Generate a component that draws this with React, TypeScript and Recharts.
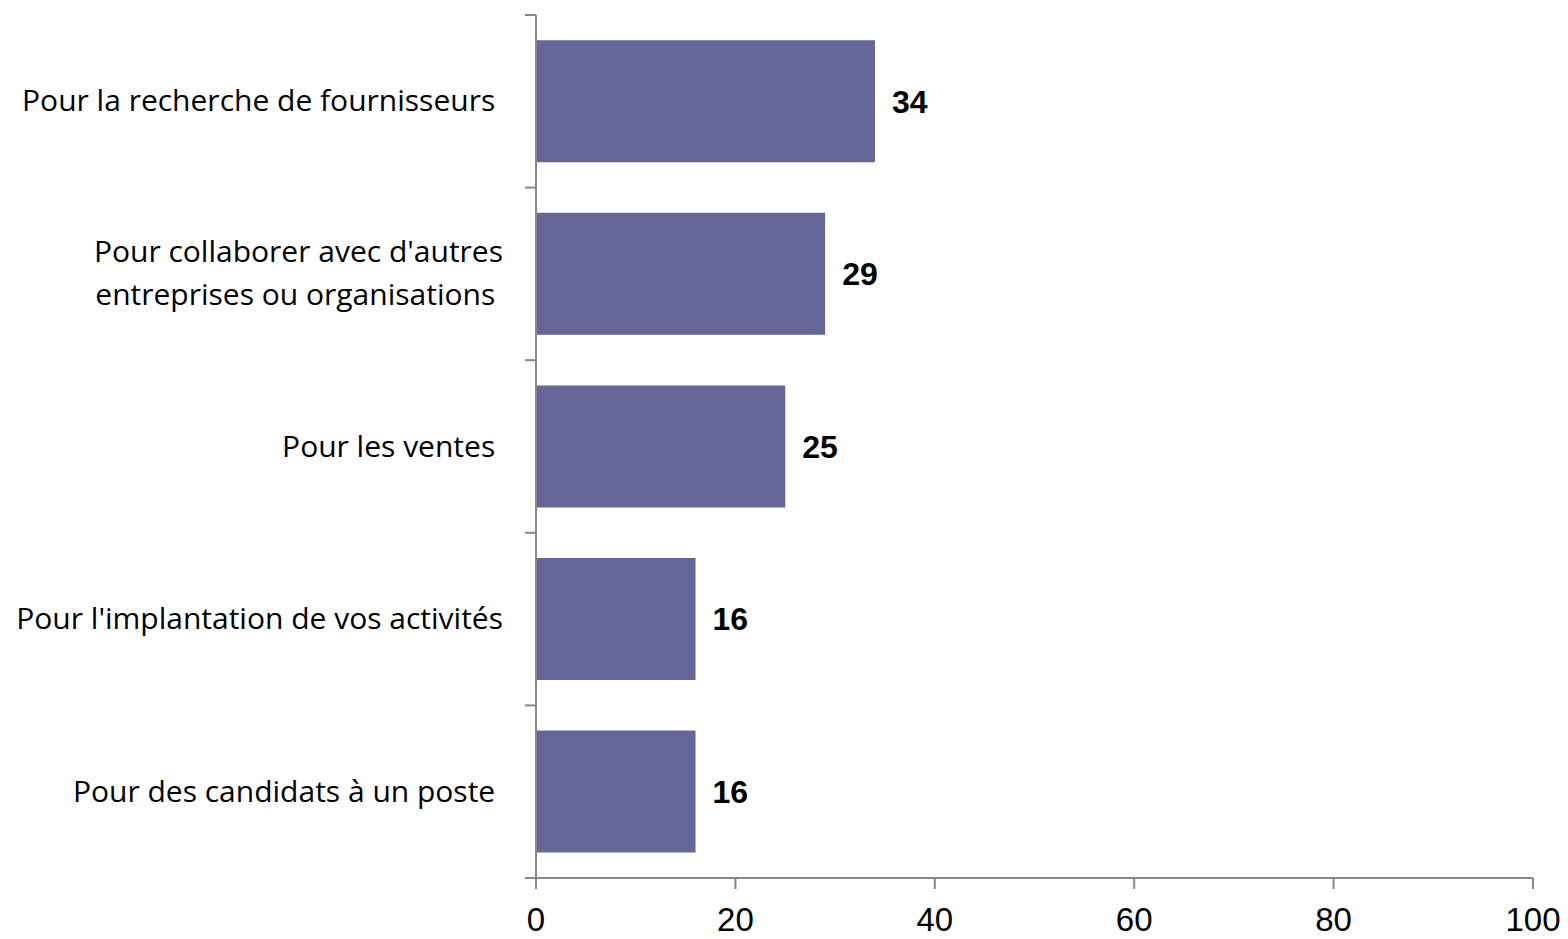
import React from 'react';
import { BarChart, Bar, XAxis, YAxis, LabelList } from 'recharts';

const categories = [
  'Pour la recherche de fournisseurs ',
  "Pour collaborer avec d'autres\nentreprises ou organisations ",
  'Pour les ventes ',
  "Pour l'implantation de vos activités",
  'Pour des candidats à un poste ',
];
const values = [34, 29, 25, 16, 16];
const xTicks = [0, 20, 40, 60, 80, 100];

const data = categories.map((c, i) => ({ name: c, value: values[i] }));

const AXIS = '#888888';
const LABEL_FONT = '"Open Sans", sans-serif';

const CatTick = (props: any) => {
  const { x, y, payload, index } = props;
  const lines = String(payload.value).split('\n');
  const off = payload.offset || 0;
  const lh = 43;
  const axisX = x + 33;
  return (
    <g>
      <line x1={axisX - 11} x2={axisX} y1={y - off} y2={y - off} stroke={AXIS} strokeWidth={2} />
      {index === categories.length - 1 && (
        <line x1={axisX - 11} x2={axisX} y1={y + off} y2={y + off} stroke={AXIS} strokeWidth={2} />
      )}
      <text
        x={x}
        y={y}
        textAnchor="end"
        fontFamily={LABEL_FONT}
        fontSize={30}
        fill="#000"
        style={{ whiteSpace: 'pre' }}
      >
        {lines.map((l, i) => (
          <tspan key={i} x={x} dy={i === 0 ? -((lines.length - 1) * lh) / 2 + 10 : lh}>
            {l}
          </tspan>
        ))}
      </text>
    </g>
  );
};

export default function App() {
  return (
    <div style={{ position: 'absolute', left: 0, top: 0 }}>
      <BarChart
        width={1568}
        height={939}
        data={data}
        layout="vertical"
        margin={{ top: 15, right: 35, bottom: 11, left: 0 }}
        barCategoryGap="14.6%"
      >
        <XAxis
          type="number"
          domain={[0, 100]}
          ticks={xTicks}
          interval={0}
          height={50}
          stroke={AXIS}
          strokeWidth={2}
          tickSize={11}
          tickMargin={19}
          tick={{ fill: '#000', fontSize: 33, fontFamily: '"Liberation Sans", Arial, sans-serif' }}
        />
        <YAxis
          type="category"
          dataKey="name"
          width={536}
          stroke={AXIS}
          strokeWidth={2}
          tickLine={false}
          tickSize={0}
          tickMargin={33}
          tick={<CatTick />}
          interval={0}
        />
        <Bar dataKey="value" fill="#666699" isAnimationActive={false}>
          <LabelList
            dataKey="value"
            position="right"
            offset={17}
            fill="#000"
            fontSize={32}
            fontWeight="bold"
            fontFamily='"Liberation Sans", Arial, sans-serif'
          />
        </Bar>
      </BarChart>
    </div>
  );
}
